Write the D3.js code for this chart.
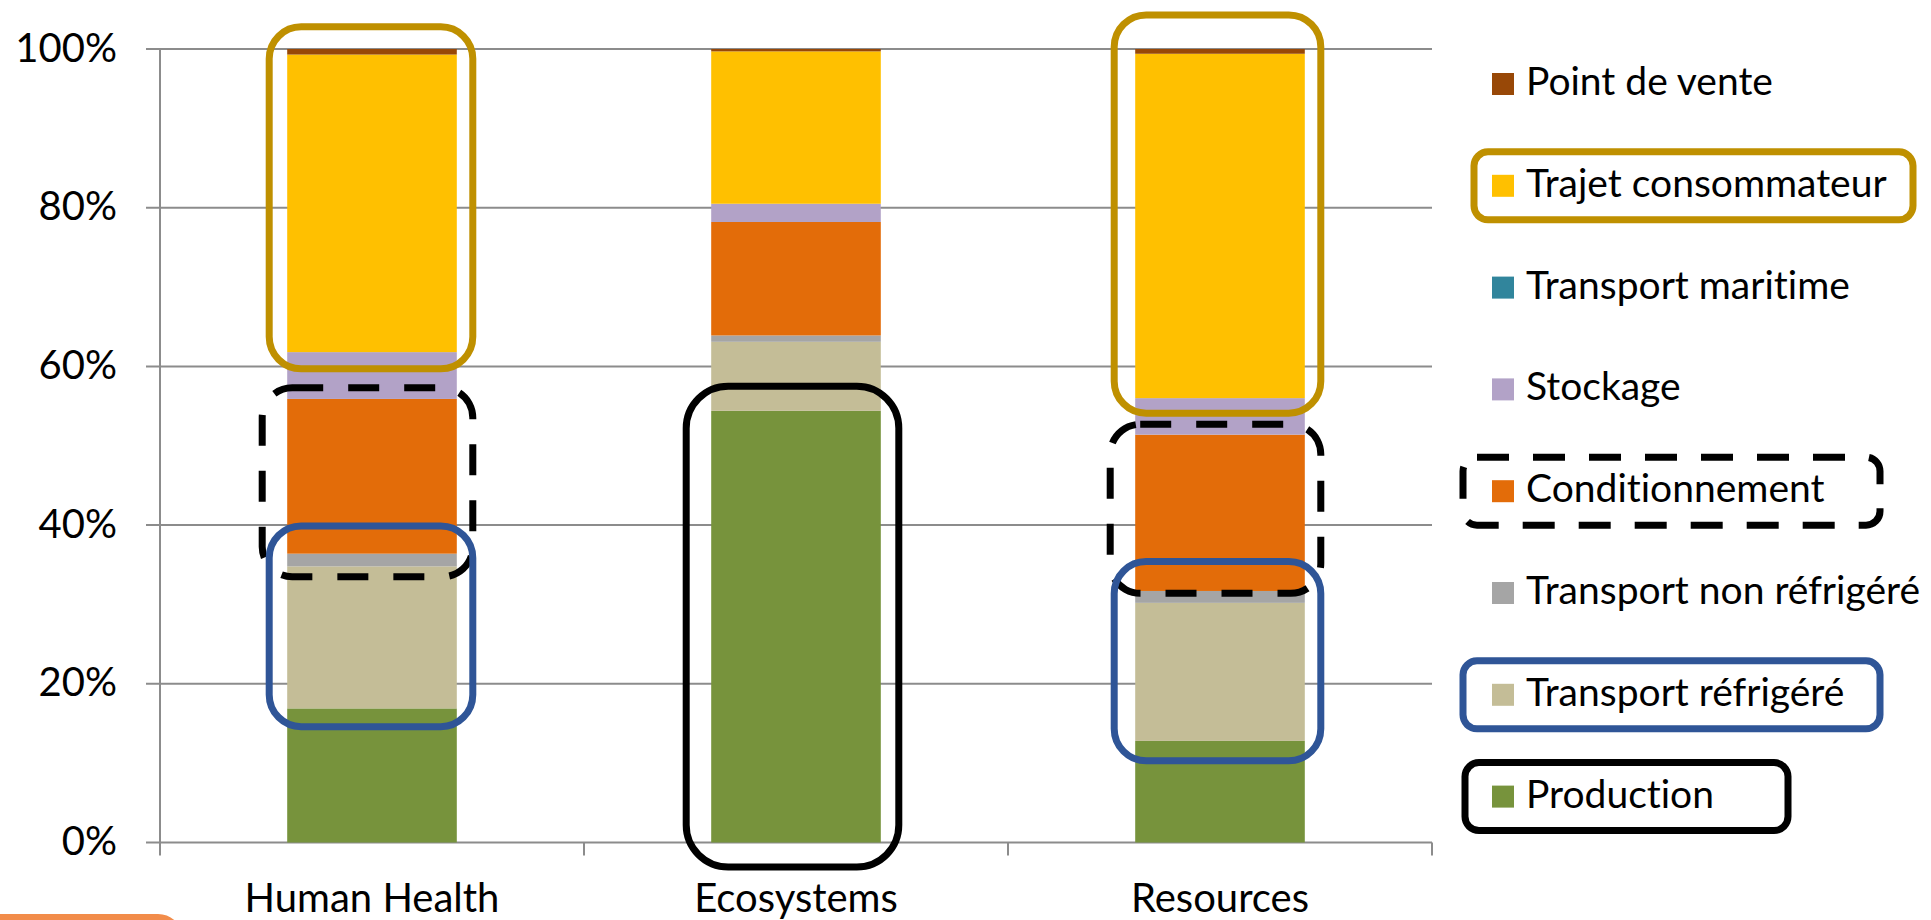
<!DOCTYPE html>
<html><head><meta charset="utf-8">
<script src="https://cdn.jsdelivr.net/npm/d3@7"></script>
<style>body{margin:0;background:#fff;overflow:hidden}svg{display:block}text{font-family:Lato,"Open Sans",sans-serif;fill:#000;font-variant-ligatures:none;font-feature-settings:"liga" 0,"clig" 0}</style>
</head><body>
<svg id="chart" width="1931" height="920"></svg>
<script>
// ---- data ----
const categories = ["Human Health", "Ecosystems", "Resources"];
const seriesNames = ["Production", "Transport réfrigéré", "Transport non réfrigéré", "Conditionnement", "Stockage", "Transport maritime", "Trajet consommateur", "Point de vente"];
const production = [16.9, 54.4, 12.8];
const transportRefrigere = [17.9, 8.7, 17.4];
const transportNonRefrigere = [1.6, 0.8, 1.5];
const conditionnement = [19.5, 14.3, 19.7];
const stockage = [5.9, 2.3, 4.6];
const transportMaritime = [0, 0, 0];
const trajetConsommateur = [37.5, 19.2, 43.4];
const pointDeVente = [0.7, 0.3, 0.6];
const seriesColors = ["#77933C", "#C4BD97", "#A5A5A5", "#E36C09", "#B2A2C7", "#31859C", "#FFC000", "#984807"];
const yTicks = [0, 0.2, 0.4, 0.6, 0.8, 1.0];

const seriesValues = [production, transportRefrigere, transportNonRefrigere, conditionnement, stockage, transportMaritime, trajetConsommateur, pointDeVente];
const table = categories.map((c, i) => {
  const row = {category: c};
  seriesNames.forEach((s, j) => row[s] = seriesValues[j][i]);
  return row;
});

const svg = d3.select("#chart");
const x = d3.scaleBand().domain(categories).range([160, 1432]).paddingInner(0.6).paddingOuter(0.3);
const y = d3.scaleLinear().domain([0, 1]).range([842.5, 49]);
const color = d3.scaleOrdinal().domain(seriesNames).range(seriesColors);
const gridColor = "#8C8C8C";

// y axis labels
const yAxis = d3.axisLeft(y).tickValues(yTicks).tickFormat(d3.format(".0%")).tickSize(0).tickPadding(0);
const gy = svg.append("g").attr("transform", "translate(117,0)").call(yAxis);
gy.select(".domain").remove();
gy.selectAll("text").attr("font-size", 40).attr("dy", "0.3em").attr("x", 0).style("font-family", "Lato");

// gridlines
svg.append("g").selectAll("line").data(yTicks).join("line")
  .attr("x1", 146).attr("x2", 1432).attr("y1", d => y(d)).attr("y2", d => y(d))
  .attr("stroke", gridColor).attr("stroke-width", 2);
// y axis line
svg.append("line").attr("x1", 160).attr("x2", 160).attr("y1", y(1)).attr("y2", y(0) + 13)
  .attr("stroke", gridColor).attr("stroke-width", 2);
// category boundary ticks
const bounds = categories.map((c, i) => x.range()[0] + (i + 1) * x.step());
svg.append("g").selectAll("line").data(bounds).join("line")
  .attr("x1", d => d).attr("x2", d => d).attr("y1", y(0)).attr("y2", y(0) + 13)
  .attr("stroke", gridColor).attr("stroke-width", 2);

// x labels
const xAxis = d3.axisBottom(x).tickSize(0).tickPadding(0);
const gx = svg.append("g").attr("transform", "translate(0,912)").call(xAxis);
gx.select(".domain").remove();
gx.selectAll("text").attr("font-size", 40).attr("dy", 0).attr("y", 0).style("font-family", "Lato");

// stacked bars
const stack = d3.stack().keys(seriesNames).offset(d3.stackOffsetExpand);
const stacked = stack(table);
svg.append("g").selectAll("g").data(stacked).join("g")
  .attr("fill", d => color(d.key))
  .selectAll("rect").data(d => d).join("rect")
  .attr("x", d => x(d.data.category))
  .attr("width", x.bandwidth())
  .attr("y", d => y(d[1]))
  .attr("height", d => Math.max(0, y(d[0]) - y(d[1])));

// annotations around bars
const annotations = [
  {cat: "Human Health", top: 1.028, bottom: 0.597, padL: 18, padR: 16, stroke: "#BF9000", dash: null, r: 32},
  {cat: "Human Health", top: 0.573, bottom: 0.335, padL: 25, padR: 16, stroke: "#000", dash: "31,25", r: 30},
  {cat: "Human Health", top: 0.399, bottom: 0.146, padL: 18, padR: 16, stroke: "#2F5597", dash: null, r: 32},
  {cat: "Ecosystems", top: 0.575, bottom: -0.031, padL: 25, padR: 18, stroke: "#000", dash: null, r: 42},
  {cat: "Resources", top: 1.043, bottom: 0.541, padL: 21, padR: 16, stroke: "#BF9000", dash: null, r: 32},
  {cat: "Resources", top: 0.527, bottom: 0.314, padL: 25, padR: 16, stroke: "#000", dash: "31,25", r: 30},
  {cat: "Resources", top: 0.354, bottom: 0.103, padL: 21, padR: 16, stroke: "#2F5597", dash: null, r: 32}
];
svg.append("g").selectAll("rect").data(annotations).join("rect")
  .attr("x", d => x(d.cat) - d.padL)
  .attr("width", d => x.bandwidth() + d.padL + d.padR)
  .attr("y", d => y(d.top))
  .attr("height", d => y(d.bottom) - y(d.top))
  .attr("rx", d => d.r).attr("ry", d => d.r)
  .attr("fill", "none").attr("stroke", d => d.stroke).attr("stroke-width", 7)
  .attr("stroke-dasharray", d => d.dash);

// legend (reverse order)
const legendOrder = seriesNames.slice().reverse();
const legendY = d3.scalePoint().domain(legendOrder).range([84, 84 + 7 * 101.8]);
const lg = svg.append("g").selectAll("g").data(legendOrder).join("g")
  .attr("transform", d => `translate(1492,${legendY(d)})`);
lg.append("rect").attr("x", 0).attr("y", -11).attr("width", 22).attr("height", 22).attr("fill", d => color(d));
lg.append("text").attr("x", 34).attr("y", 11).attr("font-size", 39).text(d => d);

// legend highlight boxes
const legendBoxes = [
  {key: "Trajet consommateur", x0: 1474, x1: 1913, stroke: "#BF9000", dash: null},
  {key: "Conditionnement", x0: 1463, x1: 1880, stroke: "#000", dash: "32,24"},
  {key: "Transport réfrigéré", x0: 1463, x1: 1880, stroke: "#2F5597", dash: null},
  {key: "Production", x0: 1465, x1: 1788, stroke: "#000", dash: null}
];
svg.append("g").selectAll("rect").data(legendBoxes).join("rect")
  .attr("x", d => d.x0).attr("width", d => d.x1 - d.x0)
  .attr("y", d => legendY(d.key) - 34).attr("height", 68)
  .attr("rx", 14).attr("ry", 14)
  .attr("fill", "none").attr("stroke", d => d.stroke).attr("stroke-width", 7)
  .attr("stroke-dasharray", d => d.dash);

// partially visible orange shape at bottom-left
svg.append("rect").attr("x", -20).attr("y", 917).attr("width", 200).attr("height", 60)
  .attr("rx", 22).attr("ry", 22).attr("fill", "none").attr("stroke", "#F28C4A").attr("stroke-width", 6);
</script>
</body></html>
